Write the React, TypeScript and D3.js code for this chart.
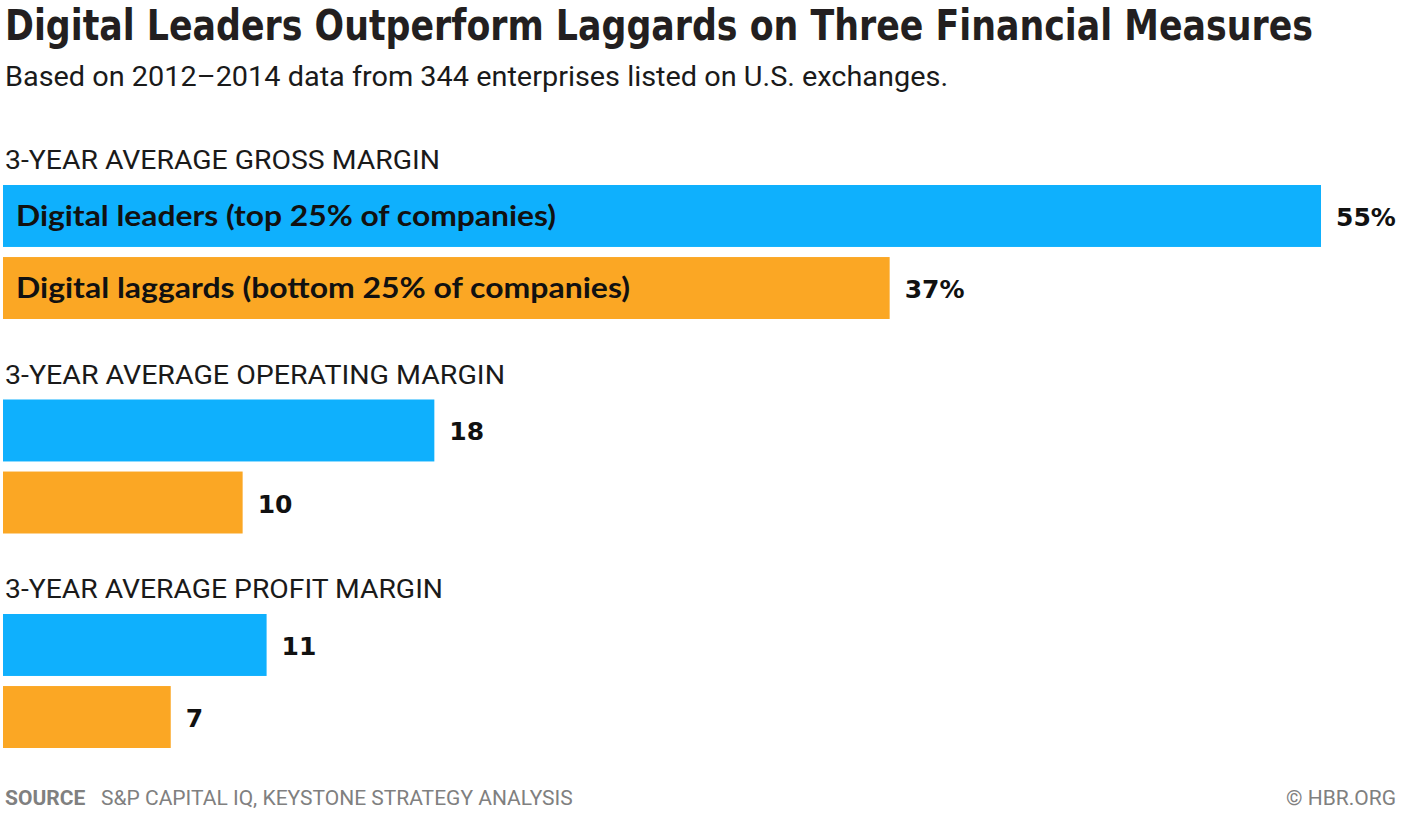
import React from "react";
import * as d3 from "d3";

const groups = ["3-YEAR AVERAGE GROSS MARGIN", "3-YEAR AVERAGE OPERATING MARGIN", "3-YEAR AVERAGE PROFIT MARGIN"];
const series = ["Digital leaders (top 25% of companies)", "Digital laggards (bottom 25% of companies)"];
const leaders = [55, 18, 11];
const laggards = [37, 10, 7];
const valueLabels = [["55%", "37%"], ["18", "10"], ["11", "7"]];
const colors = ["#0fb0fd", "#fba724"];

const W = 1401;
const H = 813;

export default function App() {
  const x = d3.scaleLinear().domain([0, 55]).range([3, 1321]);
  const gy = d3.scalePoint<string>().domain(groups).range([185, 614]);
  const by = d3.scaleBand<string>().domain(series).range([0, 134]).paddingInner(0.14);
  const values = [leaders, laggards];

  return (
    <svg width={W} height={H} style={{ position: "absolute", left: 0, top: 0, background: "#fff" }}>
      <g transform="translate(5,40) scale(1,1.1)">
        <text x={0} y={0} fontFamily="DejaVu Sans Condensed, DejaVu Sans" fontWeight={700} fontSize={38}
          fill="#231f20" textLength={1308} lengthAdjust="spacingAndGlyphs">
          Digital Leaders Outperform Laggards on Three Financial Measures
        </text>
      </g>
      <text x={5} y={86} fontFamily="Roboto, sans-serif" fontSize={27} fill="#1a1a1a"
        textLength={943} lengthAdjust="spacingAndGlyphs">
        Based on 2012–2014 data from 344 enterprises listed on U.S. exchanges.
      </text>
      {groups.map((g, gi) => {
        const top = gy(g)!;
        return (
          <g key={g}>
            <text x={5} y={top - 16} fontFamily="Roboto, sans-serif" fontSize={26} fill="#1a1a1a"
              textLength={[435, 500, 438][gi]} lengthAdjust="spacingAndGlyphs">
              {g}
            </text>
            {series.map((s, si) => {
              const v = values[si][gi];
              const y0 = top + by(s)!;
              const h = by.bandwidth();
              return (
                <g key={s}>
                  <rect x={x(0)} y={y0} width={x(v) - x(0)} height={h} fill={colors[si]} />
                  {gi === 0 && (
                    <text x={16} y={y0 + h / 2 + 10} fontFamily="Lato, sans-serif" fontWeight={700} fontSize={28}
                      fill="#111" textLength={[540, 614][si]} lengthAdjust="spacingAndGlyphs">
                      {s}
                    </text>
                  )}
                  <text x={x(v) + 15} y={y0 + h / 2 + 10} fontFamily="DejaVu Sans, sans-serif" fontWeight={700}
                    fontSize={25} fill="#111">
                    {valueLabels[gi][si]}
                  </text>
                </g>
              );
            })}
          </g>
        );
      })}
      <text x={5} y={805} fontFamily="Roboto, sans-serif" fontSize={21} fill="#808080">
        <tspan fontWeight={700}>SOURCE</tspan>
        <tspan x={101}>S&amp;P CAPITAL IQ, KEYSTONE STRATEGY ANALYSIS</tspan>
      </text>
      <text x={1396} y={805} textAnchor="end" fontFamily="Roboto, sans-serif" fontSize={21} fill="#808080">
        © HBR.ORG
      </text>
    </svg>
  );
}
